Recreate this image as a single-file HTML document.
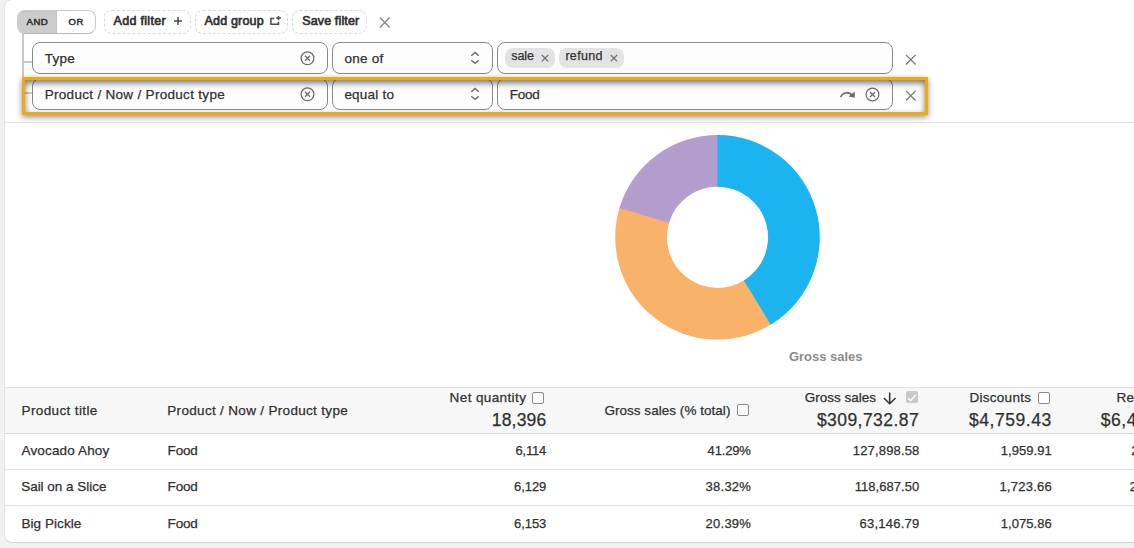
<!DOCTYPE html>
<html>
<head>
<meta charset="utf-8">
<title>Report</title>
<style>
*{box-sizing:border-box;margin:0;padding:0}
html,body{width:1134px;height:548px;overflow:hidden;background:#f1f1f1;font-family:"Liberation Sans",sans-serif;color:#303030}
.abs,.t{position:absolute}
.t{white-space:nowrap;line-height:1;font-size:13px;color:#303030;-webkit-text-stroke:0.25px #303030}
.b{-webkit-text-stroke:0}
.sb{-webkit-text-stroke:0.65px #303030}
.sb2{-webkit-text-stroke:0.5px #303030}
.b{font-weight:bold}
#card{position:absolute;left:4px;top:-1px;width:1200px;height:544px;background:#fff;border:1px solid #e3e3e3;border-bottom-color:#d4d4d4;border-radius:8px}
.field{position:absolute;height:32px;border:1px solid #8a8a8a;border-radius:8px;background:#fdfdfd}
.dash{position:absolute;top:10px;height:24px;border:1px dashed #d9d9d9;border-radius:8px;background:#fff}
.chip{position:absolute;top:48px;height:20px;border-radius:8px;background:#e3e3e3}
.hl{position:absolute;left:22px;top:77px;width:906px;height:38px;border:3px solid #f5a80c;box-shadow:0 2px 6px rgba(0,0,0,.45), inset 0 3px 6px rgba(0,0,0,.55)}
.thead{position:absolute;left:5px;top:387px;width:1200px;height:47px;background:#f7f7f7;border-top:1px solid #e3e3e3;border-bottom:1px solid #d9d9d9}
.rl{position:absolute;left:5px;width:1200px;height:1px;background:#e3e3e3}
.cb{position:absolute;width:12px;height:12px;border:1px solid #8a8a8a;border-radius:2px;background:#fdfdfd}
svg{position:absolute;overflow:visible}
</style>
</head>
<body>
<div id="card"></div>

<!-- AND / OR toggle -->
<div class="abs" style="left:17px;top:10px;width:79px;height:24px;border:1px solid #c9c9c9;border-bottom-color:#b5b5b5;border-radius:8px;background:#fff;overflow:hidden">
  <div class="abs" style="left:-1px;top:-1px;width:40px;height:24px;background:#cccccc;box-shadow:inset 0 1px 1px rgba(0,0,0,.35);border-radius:8px 0 0 8px"></div>
</div>

<!-- tree lines -->
<div class="abs" style="left:22px;top:34px;width:2px;height:60px;background:#c9c9c9"></div>
<div class="abs" style="left:24px;top:61px;width:8px;height:2px;background:#c9c9c9"></div>
<div class="abs" style="left:24px;top:92px;width:8px;height:2px;background:#c9c9c9"></div>

<!-- dashed buttons -->
<div class="dash" style="left:104px;width:87px"></div>
<div class="dash" style="left:195px;width:93px"></div>
<div class="dash" style="left:292px;width:75px"></div>

<!-- row 1 -->
<div class="field" style="left:32px;top:42px;width:296px"></div>
<div class="field" style="left:332px;top:42px;width:161px"></div>
<div class="field" style="left:497px;top:42px;width:396px"></div>
<div class="chip" style="left:505px;width:50px"></div>
<div class="chip" style="left:559px;width:65px"></div>

<!-- row 2 -->
<div class="field" style="left:32px;top:78px;width:296px"></div>
<div class="field" style="left:332px;top:78px;width:161px"></div>
<div class="field" style="left:497px;top:78px;width:396px"></div>



<!-- separator -->
<div class="rl" style="top:122px"></div>

<!-- donut -->
<svg style="left:600px;top:125px" width="240" height="225" viewBox="600 125 240 225">
<path d="M772.47 323.58A102.3 102.3 0 0 1 620.07 206.13L669.31 221.88A50.6 50.6 0 0 0 744.69 279.97Z" fill="#f9b26a"/>
<path d="M619.46 208.08A102.3 102.3 0 0 1 719.55 135.02L718.51 186.71A50.6 50.6 0 0 0 669.01 222.85Z" fill="#b29dcd"/>
<path d="M717.50 135.00A102.3 102.3 0 0 1 770.73 324.66L743.83 280.51A50.6 50.6 0 0 0 717.50 186.70Z" fill="#1bb3f0"/>
</svg>

<!-- table -->
<div class="thead"></div>
<div class="rl" style="top:469px"></div>
<div class="rl" style="top:505px"></div>
<div class="cb" style="left:532px;top:392px"></div>
<div class="cb" style="left:737px;top:404px"></div>
<div class="cb" style="left:1038px;top:392px"></div>
<div class="cb" style="left:906px;top:391px;background:#c8c8c8;border-color:#c8c8c8"></div>

<svg id="icons" style="left:0;top:0" width="1134" height="548" viewBox="0 0 1134 548" fill="none">
<path d="M178 17.1V25.1M174 21.1H182" stroke="#4a4a4a" stroke-width="1.5"/>
<path d="M274.2 18.4H270.9V24.2H278.5V21.8" stroke="#4a4a4a" stroke-width="1.5"/><path d="M278.5 15.9V20.2M276.2 18H281" stroke="#4a4a4a" stroke-width="1.4"/>
<path d="M379.90 17.60L389.70 27.40M389.70 17.60L379.90 27.40" stroke="#8a8a8a" stroke-width="1.4"/>
<path d="M541.80 55.00L548.20 61.40M548.20 55.00L541.80 61.40" stroke="#6e6e6e" stroke-width="1.2"/>
<path d="M610.70 55.00L617.10 61.40M617.10 55.00L610.70 61.40" stroke="#6e6e6e" stroke-width="1.2"/>
<circle cx="307.5" cy="58.3" r="6.4" stroke="#6a6a6a" stroke-width="1.2"/><path d="M305.00 55.80L310.00 60.80M310.00 55.80L305.00 60.80" stroke="#6a6a6a" stroke-width="1.3"/>
<circle cx="307.5" cy="94.3" r="6.4" stroke="#6a6a6a" stroke-width="1.2"/><path d="M305.00 91.80L310.00 96.80M310.00 91.80L305.00 96.80" stroke="#6a6a6a" stroke-width="1.3"/>
<circle cx="872.5" cy="94.5" r="6.4" stroke="#6a6a6a" stroke-width="1.2"/><path d="M870.00 92.00L875.00 97.00M875.00 92.00L870.00 97.00" stroke="#6a6a6a" stroke-width="1.3"/>
<path d="M471.3 55.699999999999996L475 52.5L478.7 55.699999999999996M471.3 60.199999999999996L475 63.4L478.7 60.199999999999996" stroke="#6a6a6a" stroke-width="1.4"/>
<path d="M471.3 91.7L475 88.5L478.7 91.7M471.3 96.2L475 99.39999999999999L478.7 96.2" stroke="#6a6a6a" stroke-width="1.4"/>
<path d="M840.6 97.2C843 92 849 91 852.5 96" stroke="#6a6a6a" stroke-width="1.7"/><path d="M854.8 91.6V97.8L848.6 96.6Z" fill="#6a6a6a"/>
<path d="M906.00 54.90L915.60 64.50M915.60 54.90L906.00 64.50" stroke="#7a7a7a" stroke-width="1.3"/>
<path d="M906.00 90.90L915.60 100.50M915.60 90.90L906.00 100.50" stroke="#7a7a7a" stroke-width="1.3"/>
<path d="M889.7 392.4V403.6M883.9 398L889.7 403.8L895.5 398" stroke="#303030" stroke-width="1.5"/>
<path d="M908 398.2L910.7 400.6L915.7 394.7" stroke="#fff" stroke-width="1.4"/>
</svg>

<span class="t sb2" id="tand" style="left:26.60px;top:17.19px;font-size:9.7px;letter-spacing:0.324px">AND</span>
<span class="t sb2" id="tor" style="left:68.60px;top:17.36px;font-size:9.5px;letter-spacing:0.452px">OR</span>
<span class="t sb" id="taf" style="left:113.50px;top:14.82px;font-size:12.5px;letter-spacing:0.308px">Add filter</span>
<span class="t sb" id="tag" style="left:204.60px;top:14.82px;font-size:12.5px;letter-spacing:0.165px">Add group</span>
<span class="t sb" id="tsf" style="left:302.20px;top:14.82px;font-size:12.5px;letter-spacing:0.142px">Save filter</span>
<span class="t" id="ttype" style="left:44.70px;top:51.97px;font-size:13.5px;letter-spacing:0.245px">Type</span>
<span class="t" id="toneof" style="left:344.40px;top:51.97px;font-size:13.5px;letter-spacing:0.287px">one of</span>
<span class="t" id="tsale" style="left:511.30px;top:49.82px;font-size:12.5px;letter-spacing:-0.110px">sale</span>
<span class="t" id="trefund" style="left:565.40px;top:49.82px;font-size:12.5px;letter-spacing:0.312px">refund</span>
<span class="t" id="tpnp" style="left:44.70px;top:87.97px;font-size:13.5px;letter-spacing:0.303px">Product / Now / Product type</span>
<span class="t" id="tequal" style="left:344.40px;top:87.97px;font-size:13.5px;letter-spacing:0.223px">equal to</span>
<span class="t" id="tfood" style="left:509.70px;top:87.97px;font-size:13.5px;letter-spacing:-0.256px">Food</span>
<span class="t b" id="tgs" style="left:788.90px;top:350.40px;font-size:13px;letter-spacing:-0.011px;color:#8c8c8c">Gross sales</span>
<span class="t" id="h1" style="left:21.60px;top:403.97px;font-size:13.5px;letter-spacing:0.368px">Product title</span>
<span class="t" id="h2" style="left:167.30px;top:403.97px;font-size:13.5px;letter-spacing:0.318px">Product / Now / Product type</span>
<span class="t" id="h3" style="left:449.60px;top:390.97px;font-size:13.5px;letter-spacing:0.387px">Net quantity</span>
<span class="t" id="h3t" style="left:491.70px;top:411.59px;font-size:17.5px;letter-spacing:0.215px">18,396</span>
<span class="t" id="h4" style="left:604.40px;top:403.97px;font-size:13.5px;letter-spacing:0.036px">Gross sales (% total)</span>
<span class="t" id="h5" style="left:804.80px;top:390.97px;font-size:13.5px;letter-spacing:0.003px">Gross sales</span>
<span class="t" id="h5t" style="left:816.90px;top:411.59px;font-size:17.5px;letter-spacing:0.448px">$309,732.87</span>
<span class="t" id="h6" style="left:969.40px;top:390.97px;font-size:13.5px;letter-spacing:0.291px">Discounts</span>
<span class="t" id="h6t" style="left:969.10px;top:411.59px;font-size:17.5px;letter-spacing:0.531px">$4,759.43</span>
<span class="t" id="h7" style="left:1116.60px;top:390.97px;font-size:13.5px;letter-spacing:0.103px">Refunds</span>
<span class="t" id="h7t" style="left:1100.80px;top:411.59px;font-size:17.5px;letter-spacing:0.544px">$6,412.35</span>
<span class="t" id="r1a" style="left:21.50px;top:443.97px;font-size:13.5px;letter-spacing:0.153px">Avocado Ahoy</span>
<span class="t" id="r2a" style="left:21.20px;top:479.97px;font-size:13.5px;letter-spacing:-0.025px">Sail on a Slice</span>
<span class="t" id="r3a" style="left:21.50px;top:516.97px;font-size:13.5px;letter-spacing:0.059px">Big Pickle</span>
<span class="t" id="r1b" style="left:167.60px;top:443.97px;font-size:13.5px;letter-spacing:-0.189px">Food</span>
<span class="t" id="r2b" style="left:167.60px;top:479.97px;font-size:13.5px;letter-spacing:-0.189px">Food</span>
<span class="t" id="r3b" style="left:167.60px;top:516.97px;font-size:13.5px;letter-spacing:-0.189px">Food</span>
<span class="t" id="r1c" style="left:515.50px;top:444.40px;font-size:13px;letter-spacing:-0.191px">6,114</span>
<span class="t" id="r2c" style="left:514.00px;top:480.40px;font-size:13px;letter-spacing:-0.057px">6,129</span>
<span class="t" id="r3c" style="left:514.00px;top:517.40px;font-size:13px;letter-spacing:-0.057px">6,153</span>
<span class="t" id="r1d" style="left:707.60px;top:444.40px;font-size:13px;letter-spacing:-0.158px">41.29%</span>
<span class="t" id="r2d" style="left:705.60px;top:480.40px;font-size:13px;letter-spacing:0.242px">38.32%</span>
<span class="t" id="r3d" style="left:705.60px;top:517.40px;font-size:13px;letter-spacing:0.242px">20.39%</span>
<span class="t" id="r1e" style="left:852.80px;top:444.40px;font-size:13px;letter-spacing:0.160px">127,898.58</span>
<span class="t" id="r2e" style="left:854.70px;top:480.40px;font-size:13px;letter-spacing:0.056px">118,687.50</span>
<span class="t" id="r3e" style="left:859.50px;top:517.40px;font-size:13px;letter-spacing:0.246px">63,146.79</span>
<span class="t" id="r1f" style="left:1000.80px;top:444.40px;font-size:13px;letter-spacing:0.043px">1,959.91</span>
<span class="t" id="r2f" style="left:999.40px;top:480.40px;font-size:13px;letter-spacing:0.243px">1,723.66</span>
<span class="t" id="r3f" style="left:1000.80px;top:517.40px;font-size:13px;letter-spacing:0.043px">1,075.86</span>
<span class="t" id="r1g" style="left:1131.30px;top:444.40px;font-size:13px;letter-spacing:0.343px">2,063.40</span>
<span class="t" id="r2g" style="left:1129.70px;top:480.40px;font-size:13px;letter-spacing:0.457px">2,215.04</span>

<div class="hl"></div>
</body>
</html>
